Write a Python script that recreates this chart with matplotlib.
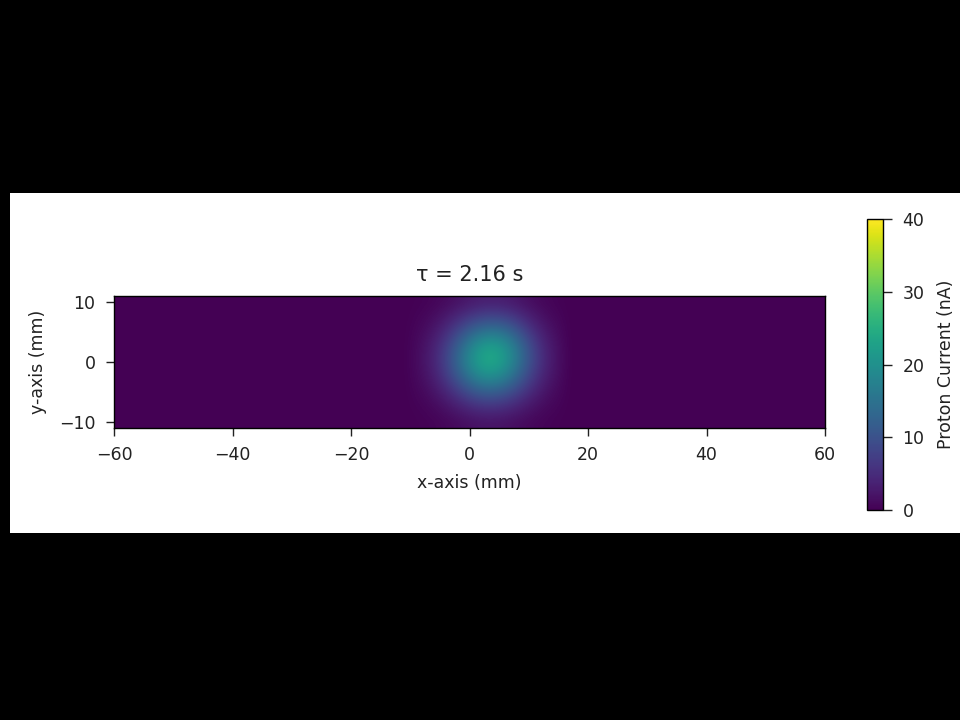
import numpy as np
import matplotlib
matplotlib.use("Agg")
import matplotlib.pyplot as plt
from matplotlib.patches import Rectangle

# ---- data ----
title_text = "τ = 2.16 s"
x_ticks = [-60, -40, -20, 0, 20, 40, 60]
y_ticks = [-10, 0, 10]
cbar_ticks = [0, 10, 20, 30, 40]

# grid cell centres (mm), 2 mm cells
grid_x = np.arange(-59, 60, 2)          # 60 columns
grid_y = np.arange(10, -11, -2)         # 11 rows, top to bottom

# beam spot (nA) on columns x = -9 ... 15 (step 2), rows y = 10 ... -10
spot_x = [-9, -7, -5, -3, -1, 1, 3, 5, 7, 9, 11, 13, 15]
spot_nA = [
    [0.15, 0.38, 0.80, 1.45, 2.26, 2.99, 3.37, 3.30, 2.80, 1.95, 1.15, 0.58, 0.25],
    [0.31, 0.78, 1.66, 3.03, 4.70, 6.23, 7.10, 7.00, 5.90, 4.10, 2.40, 1.20, 0.52],
    [0.55, 1.38, 2.93, 5.34, 8.29, 11.0, 12.6, 12.4, 10.4, 7.20, 4.20, 2.10, 0.90],
    [0.81, 2.04, 4.34, 7.89, 12.3, 16.4, 18.8, 18.4, 15.3, 10.6, 6.20, 3.05, 1.32],
    [1.01, 2.53, 5.39, 9.81, 15.2, 20.3, 23.2, 22.4, 18.6, 12.9, 7.60, 3.75, 1.63],
    [1.05, 2.65, 5.63, 10.2, 15.9, 21.1, 23.8, 22.8, 18.7, 13.0, 7.76, 3.88, 1.69],
    [0.93, 2.32, 4.94, 8.99, 13.8, 18.3, 20.6, 19.6, 16.0, 11.1, 6.60, 3.30, 1.45],
    [0.68, 1.71, 3.65, 6.60, 10.1, 13.4, 15.0, 14.3, 11.7, 8.10, 4.85, 2.42, 1.05],
    [0.42, 1.06, 2.26, 4.05, 6.25, 8.25, 9.25, 8.80, 7.20, 5.00, 3.00, 1.50, 0.65],
    [0.22, 0.55, 1.18, 2.10, 3.25, 4.30, 4.80, 4.60, 3.75, 2.60, 1.55, 0.78, 0.34],
    [0.10, 0.24, 0.52, 0.92, 1.42, 1.88, 2.10, 2.00, 1.65, 1.15, 0.68, 0.34, 0.15],
]

# ---- build full field ----
Z = np.zeros((len(grid_y), len(grid_x)))
col0 = int(np.where(grid_x == spot_x[0])[0][0])
Z[:, col0:col0 + len(spot_x)] = np.array(spot_nA)

plt.rcParams['font.family'] = ['DejaVu Sans']
plt.rcParams['font.size'] = 12.5
plt.rcParams['axes.linewidth'] = 1.0
for a in ('xtick', 'ytick'):
    plt.rcParams[f'{a}.major.size'] = 5.8
    plt.rcParams[f'{a}.major.width'] = 1.0
    plt.rcParams[f'{a}.major.pad'] = 7.5
    plt.rcParams[f'{a}.color'] = '#222222'
    plt.rcParams[f'{a}.labelcolor'] = '#222222'

W, H = 960, 720
fig = plt.figure(figsize=(9.6, 7.2), dpi=100, facecolor='black')
fig.add_artist(Rectangle((10 / W, 1 - 533 / H), 950 / W, 340 / H,
                         transform=fig.transFigure, facecolor='white',
                         edgecolor='none', zorder=0))

ax = fig.add_axes([114 / W, 1 - 428 / H, 711 / W, 132 / H])
im = ax.imshow(Z, extent=[-60, 60, -11, 11], origin='upper', cmap='viridis',
               vmin=0, vmax=40, interpolation='bicubic', aspect='auto')
ax.set_xticks(x_ticks)
ax.set_yticks(y_ticks)
ax.set_xlim(-60, 60)
ax.set_ylim(-11, 11)
ax.set_xlabel("x-axis (mm)", color='#222222', labelpad=7)
ax.set_ylabel("y-axis (mm)", color='#222222', labelpad=9)
ax.set_title(title_text, fontsize=15, pad=11, color='#222222')

cax = fig.add_axes([867 / W, 1 - 510 / H, 16 / W, 291 / H])
cb = fig.colorbar(im, cax=cax)
cb.set_ticks(cbar_ticks)
cb.outline.set_linewidth(1.0)
cb.ax.tick_params(length=6.5, pad=7.5)
cb.set_label("Proton Current (nA)", color='#222222', labelpad=9)

fig.savefig("out.png", dpi=100, facecolor=fig.get_facecolor())
